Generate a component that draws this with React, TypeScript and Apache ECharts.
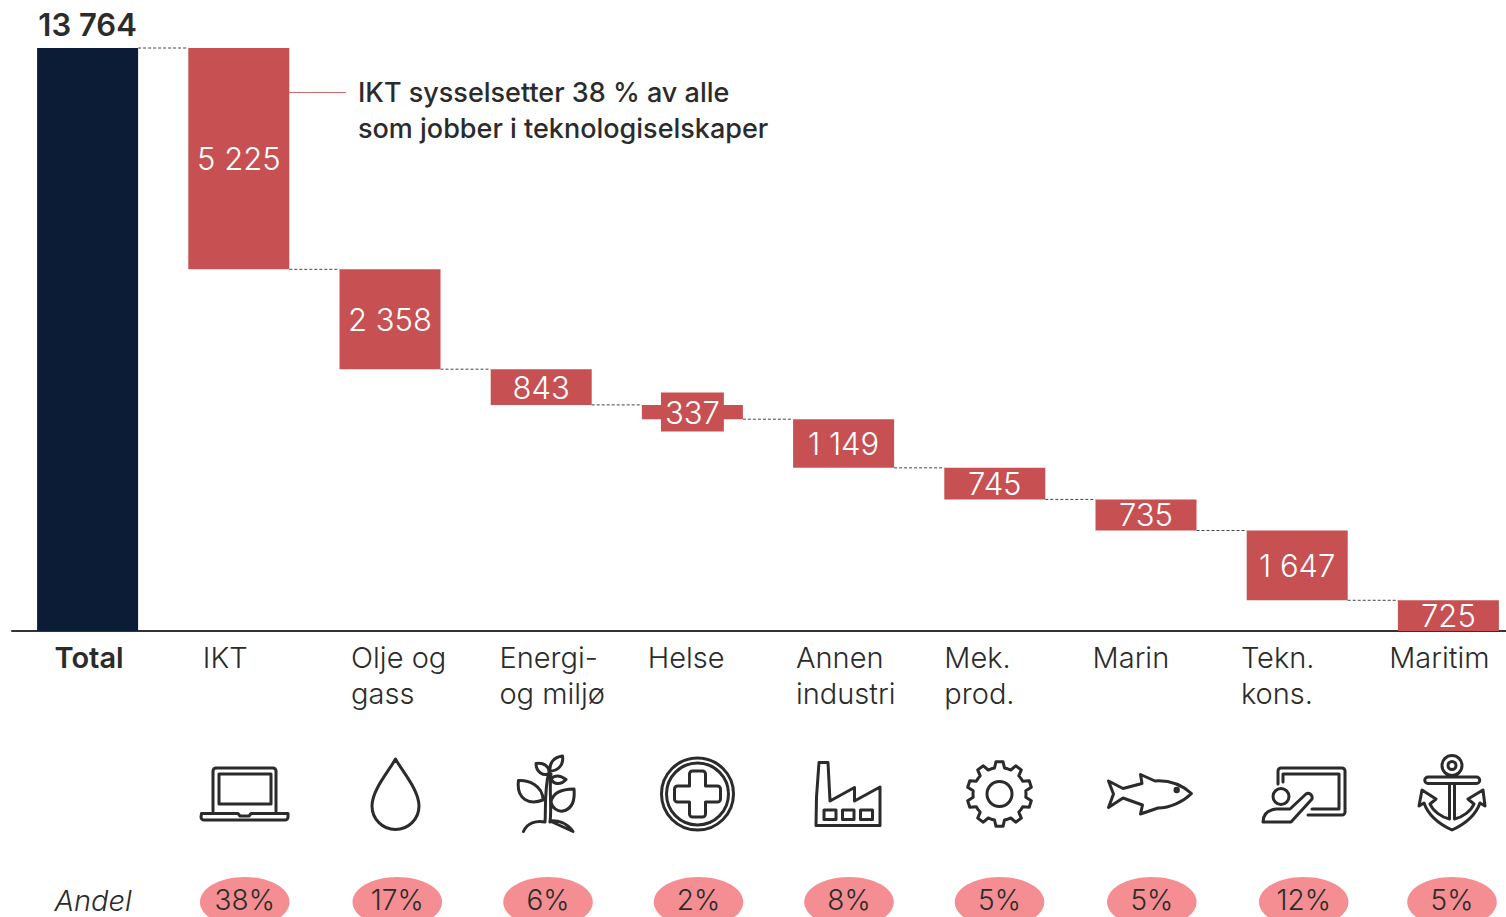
import React, { useEffect, useRef } from "react";
import * as echarts from "echarts";

const categories = ["Total", "IKT", "Olje og\ngass", "Energi-\nog miljø", "Helse", "Annen\nindustri", "Mek.\nprod.", "Marin", "Tekn.\nkons.", "Maritim"];
const values = [13764, 5225, 2358, 843, 337, 1149, 745, 735, 1647, 725];
const bases = [0, 8539, 6181, 5338, 5001, 3852, 3107, 2372, 725, 0];
const shares = ["38%", "17%", "6%", "2%", "8%", "5%", "5%", "12%", "5%"];
const shareX = [244.7, 397.3, 548, 698.5, 849, 999.5, 1151.8, 1303.7, 1452];
const annotation = ["IKT sysselsetter 38 % av alle", "som jobber i teknologiselskaper"];

const FONT = "Inter";
const INK = "#2b2b2b";
const RED = "#c75052";
const PINK = "#f48e92";
const NAVY = "#0c1b36";

const gearPath = (() => {
  const cx = 999.5, cy = 794, n = 10;
  let d = "";
  for (let i = 0; i < n; i++) {
    const a = (i / n) * Math.PI * 2 - Math.PI / 2;
    const st = (Math.PI * 2) / n;
    const pts: [number, number][] = [
      [26.5, a - st * 0.5], [26.5, a - st * 0.3], [32.5, a - st * 0.17], [32.5, a + st * 0.17], [26.5, a + st * 0.3],
    ];
    for (const [r, t] of pts) {
      d += (d ? "L" : "M") + (cx + r * Math.cos(t)).toFixed(1) + " " + (cy + r * Math.sin(t)).toFixed(1);
    }
  }
  return d + "Z";
})();

const icons: Record<string, string> = {
  laptop: "M213 811V771a3 3 0 0 1 3-3H273a3 3 0 0 1 3 3V811M219 774H271V804H219ZM201.5 813.5H238l2 2.5h9l2-2.5H288V817a3 3 0 0 1-3 3H204a3 3 0 0 1-3-3Z",
  drop: "M395.5 759C389 771 372 790 372 806A23.5 23.5 0 0 0 419 806C419 790 402 771 395.5 759Z",
  plant: "M523.5 831.5C527 823 536 820 545 822C546 810 544 790 549 772M550 822C552 808 549 790 551 774M550 821C558 820 567 823 573 831.5ZM518.5 780.5C528 780 543 785 543 800C530 805 516 800 518.5 780.5ZM574 789C562 789 553 792 551 802C552 808 558 812 563 811C572 809 575 800 574 789ZM536 763.5C543 762 550 766 549 774C543 776 536 772 536 763.5ZM562.5 756C554 757 549 763 550 771C558 771 564 765 562.5 756ZM551 779C555 775 560 775 566 779.5C561 785 554 785 551 779Z",
  medical: "M661.5 794a36 36 0 1 0 72 0a36 36 0 1 0-72 0ZM666.5 794a31 31 0 1 0 62 0a31 31 0 1 0-62 0ZM689.5 774a3 3 0 0 1 3-3h10a3 3 0 0 1 3 3v12h12a3 3 0 0 1 3 3v10a3 3 0 0 1-3 3h-12v12a3 3 0 0 1-3 3h-10a3 3 0 0 1-3-3v-12h-12a3 3 0 0 1-3-3v-10a3 3 0 0 1 3-3h12Z",
  factory: "M816 825.5L816.5 797L819 762.5H828L830 801L854.5 787.5V801L880 787V825.5ZM824 810H836V819.5H824ZM842.5 810H854V819.5H842.5ZM860.5 810H872.5V819.5H860.5Z",
  gear: gearPath + "M987 794a12.5 12.5 0 1 0 25 0a12.5 12.5 0 1 0-25 0Z",
  fish: "M1108.5 781L1123 788.5L1142 783.5L1140.5 774.5L1155 781C1170 780 1183 786 1191.5 793.5C1183 802 1170 808 1158 808L1140.5 814L1142.5 805L1123 798L1108.5 807.5L1113.5 794ZM1175 790a1.7 1.7 0 1 0 3.4 0a1.7 1.7 0 1 0-3.4 0Z",
  teacher: "M1278 784V771a3 3 0 0 1 3-3H1342a3 3 0 0 1 3 3V812a3 3 0 0 1-3 3H1308M1283 782V774H1339V809H1312M1273 796.5a8 8 0 1 0 16 0a8 8 0 1 0-16 0ZM1263 822C1263 814 1268 810 1276 809L1290 809L1306 794C1309 792 1313 795 1312 799L1291 822Z",
  anchor: "M1442 765.5a10 10 0 1 0 20 0a10 10 0 1 0-20 0ZM1448 765.5a4 4 0 1 0 8 0a4 4 0 1 0-8 0ZM1428 777H1476.5a2.5 2.5 0 0 1 0 6.5H1428a2.5 2.5 0 0 1 0-6.5ZM1449.5 784V819C1441 817 1433 811 1430 804L1436 799L1422 790L1419 806L1424 803C1429 817 1441 825 1452 830C1463 825 1475 817 1480 803L1485 806L1483 790L1468 799L1474 804C1471 811 1463 817 1454.5 819V784",
};

let registered = false;
function registerIcons() {
  if (registered) return;
  registered = true;
  for (const k of Object.keys(icons)) {
    echarts.graphic.registerShape("icon-" + k, echarts.graphic.extendPath(icons[k] as any, {}));
  }
}

const fmt = (v: number) => String(v).replace(/\B(?=(\d{3})+$)/g, " ");

export default function App() {
  const ref = useRef<HTMLDivElement>(null);
  useEffect(() => {
    document.body.style.margin = "0";
    document.body.style.overflow = "hidden";
    registerIcons();
    const chart = echarts.init(ref.current!, undefined, { renderer: "svg" });
    const BAR = 101;
    const catText = (i: number, s: string) =>
      s.split("\n").map((line, j) => ({
        type: "text",
        x: 54.5 + i * 148.3,
        y: 657 + j * 36,
        style: {
          text: line,
          font: `${i === 0 ? 600 : 300} 29px ${FONT}`,
          fill: INK,
          textAlign: "left",
          textVerticalAlign: "middle",
        },
      }));
    const graphic: any[] = [
      { type: "line", shape: { x1: 289, y1: 92.5, x2: 346, y2: 92.5 }, style: { stroke: "#d9686c", lineWidth: 1.2 } },
      ...annotation.map((t, i) => ({
        type: "text",
        x: 358,
        y: 92 + i * 36,
        style: { text: t, font: `500 27px ${FONT}`, fill: INK, textAlign: "left", textVerticalAlign: "middle" },
      })),
      ...categories.flatMap((c, i) => catText(i, c)),
      ...Object.keys(icons).map((k) => ({
        type: "icon-" + k,
        x: 0,
        y: 0,
        style: { fill: "none", stroke: INK, lineWidth: 3, lineJoin: "round", lineCap: "round" },
      })),
      ...shareX.map((x) => ({ type: "ellipse", shape: { cx: x, cy: 902, rx: 44.8, ry: 25 }, style: { fill: PINK } })),
      ...shares.map((s, i) => ({
        type: "text",
        x: shareX[i],
        y: 900,
        style: { text: s, font: `300 28px ${FONT}`, fill: INK, textAlign: "center", textVerticalAlign: "middle" },
      })),
      {
        type: "text",
        x: 54.5,
        y: 900,
        style: { text: "Andel", font: `italic 300 29px ${FONT}`, fill: INK, textAlign: "left", textVerticalAlign: "middle" },
      },
    ];
    chart.setOption({
      animation: false,
      grid: { left: 12, width: 1512, top: 48, bottom: 286, outerBoundsMode: "none" },
      xAxis: {
        type: "category",
        data: categories,
        axisLine: { lineStyle: { color: "#333", width: 2 } },
        axisTick: { show: false },
        axisLabel: { show: false },
      },
      yAxis: { type: "value", min: 0, max: 13764, show: false },
      graphic,
      series: [
        {
          type: "bar",
          stack: "w",
          barWidth: BAR,
          data: bases,
          itemStyle: { color: "transparent" },
          silent: true,
        },
        {
          type: "bar",
          stack: "w",
          barWidth: BAR,
          data: values.map((v, i) => {
            const label: any =
              i === 0
                ? { position: "top", distance: 8, color: INK, fontWeight: 600, fontSize: 31 }
                : i === 4
                  ? { backgroundColor: RED, padding: [4, 4, 4, 4] }
                  : {};
            return { value: v, itemStyle: { color: i === 0 ? NAVY : RED }, label };
          }),
          label: {
            show: true,
            position: "inside",
            color: "#fff",
            fontFamily: FONT,
            fontWeight: 300,
            fontSize: 31,
            formatter: (p: any) => fmt(p.value),
          },
        },
        {
          type: "custom",
          silent: true,
          z: 1,
          clip: false,
          data: values.slice(0, -1).map((_, i) => [i, i === 0 ? values[0] : bases[i]]),
          encode: { x: 0, y: 1 },
          renderItem: (_: any, api: any) => {
            const p = api.coord([api.value(0), api.value(1)]);
            const w = api.size([1, 0])[0];
            return {
              type: "line",
              shape: { x1: p[0] + BAR / 2, y1: p[1], x2: p[0] + w - BAR / 2, y2: p[1] },
              style: { stroke: "#444", lineWidth: 1, lineDash: [3, 2] },
            };
          },
        },
      ],
    });
    return () => chart.dispose();
  }, []);
  return <div ref={ref} style={{ width: 1506, height: 917 }} />;
}
